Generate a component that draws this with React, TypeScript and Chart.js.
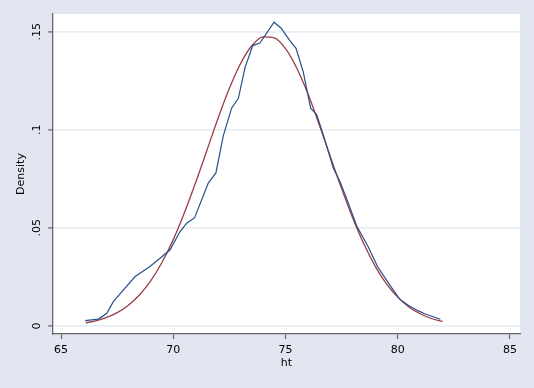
import React, { useEffect, useRef } from "react";
import { Chart, registerables } from "chart.js";

Chart.register(...registerables);

// Kernel density estimate (navy)
const kdensX = [66.07, 66.66, 67.03, 67.33, 67.78, 68.3, 68.96, 69.41, 69.86, 70.3, 70.6, 70.95, 71.56, 71.9, 72.23, 72.6, 72.9, 73.2, 73.54, 73.86, 74.49, 74.8, 75.17, 75.47, 75.79, 76.12, 76.39, 76.66, 77.13, 77.43, 77.73, 78.17, 78.69, 79.1, 79.65, 80.08, 80.5, 80.9, 81.2, 81.9];
const kdensY = [0.0027, 0.0035, 0.0063, 0.0124, 0.0184, 0.0252, 0.0303, 0.0345, 0.0388, 0.0481, 0.0524, 0.0552, 0.0728, 0.078, 0.097, 0.111, 0.116, 0.1318, 0.1429, 0.1442, 0.1548, 0.1519, 0.1458, 0.1415, 0.1295, 0.111, 0.1077, 0.0983, 0.0805, 0.0735, 0.0647, 0.0511, 0.0402, 0.0303, 0.0208, 0.0138, 0.0103, 0.0078, 0.0062, 0.0034];

// Normal density (maroon)
const normX = [66.1, 66.5, 67, 67.5, 68, 68.5, 69, 69.5, 70, 70.5, 71, 71.5, 72, 72.5, 73, 73.5, 74, 74.5, 75, 75.5, 76, 76.5, 77, 77.5, 78, 78.5, 79, 79.5, 80, 80.5, 81, 81.5, 82];
const normY = [0.0016, 0.0025, 0.0042, 0.0068, 0.0106, 0.0159, 0.0231, 0.0325, 0.044, 0.0578, 0.0732, 0.0896, 0.106, 0.1211, 0.1338, 0.1428, 0.1473, 0.1468, 0.1413, 0.1315, 0.1183, 0.1027, 0.0863, 0.07, 0.0549, 0.0416, 0.0304, 0.0215, 0.0147, 0.0097, 0.0062, 0.0038, 0.0023];

const xTicks = [65, 70, 75, 80, 85];
const yTicks = [0, 0.05, 0.1, 0.15];
const yTickLabels = ["0", ".05", ".1", ".15"];
const xTitle = "ht";
const yTitle = "Density";

const BG = "#e1e6f0";
const FONT = "'DejaVu Sans', sans-serif";

export default function App() {
  const ref = useRef<HTMLCanvasElement | null>(null);

  useEffect(() => {
    document.body.style.margin = "0";
    const canvas = ref.current;
    if (!canvas) return;

    const bgPlugin = {
      id: "bg",
      beforeDraw(chart: any) {
        const { ctx, chartArea } = chart;
        ctx.save();
        ctx.fillStyle = BG;
        ctx.fillRect(0, 0, chart.width, chart.height);
        ctx.fillStyle = "#ffffff";
        ctx.fillRect(chartArea.left, chartArea.top, chartArea.right - chartArea.left, chartArea.bottom - chartArea.top);
        ctx.restore();
      },
    };

    const chart = new Chart(canvas, {
      type: "line",
      data: {
        datasets: [
          {
            label: "kdensity",
            data: kdensX.map((x, i) => ({ x, y: kdensY[i] })),
            borderColor: "#26508a",
            borderWidth: 1.2,
            pointRadius: 0,
            tension: 0,
            fill: false,
          },
          {
            label: "normal",
            data: normX.map((x, i) => ({ x, y: normY[i] })),
            borderColor: "#9c3d45",
            borderWidth: 1.3,
            pointRadius: 0,
            tension: 0.4,
            cubicInterpolationMode: "monotone",
            fill: false,
          },
        ],
      },
      options: {
        responsive: false,
        animation: false,
        layout: { padding: { top: 14, right: 14, left: 0, bottom: 0 } },
        plugins: { legend: { display: false }, tooltip: { enabled: false } },
        scales: {
          x: {
            type: "linear",
            min: 64.64,
            max: 85.45,
            afterBuildTicks(scale: any) {
              scale.ticks = xTicks.map((v) => ({ value: v }));
            },
            afterFit(scale: any) {
              scale.height = 54;
            },
            grid: {
              drawOnChartArea: false,
              drawTicks: true,
              tickLength: 5,
              tickColor: "#666666",
              tickWidth: 1.2,
            },
            border: { display: true, color: "#666666", width: 1.3 },
            ticks: {
              color: "#000000",
              font: { family: FONT, size: 11 },
              padding: 5,
              maxRotation: 0,
              minRotation: 0,
              callback: (v: any) => String(v),
            },
            title: {
              display: true,
              text: xTitle,
              color: "#000000",
              font: { family: FONT, size: 11 },
              padding: { top: 0, bottom: 18 },
            },
          },
          y: {
            type: "linear",
            min: -0.0041,
            max: 0.159,
            afterBuildTicks(scale: any) {
              scale.ticks = yTicks.map((v) => ({ value: v }));
            },
            afterFit(scale: any) {
              scale.width = 53;
            },
            grid: {
              drawOnChartArea: true,
              color: "#e9edf4",
              lineWidth: 1.8,
              drawTicks: true,
              tickLength: 5,
              tickColor: "#666666",
              tickWidth: 1.2,
            },
            border: { display: true, color: "#666666", width: 1.3 },
            ticks: {
              color: "#000000",
              font: { family: FONT, size: 11 },
              padding: 2,
              minRotation: 90,
              maxRotation: 90,
              crossAlign: "center",
              callback: (v: any) => {
                const i = yTicks.findIndex((t) => Math.abs(t - v) < 1e-9);
                return i >= 0 ? yTickLabels[i] : "";
              },
            },
            title: {
              display: true,
              text: yTitle,
              color: "#000000",
              font: { family: FONT, size: 11 },
              padding: { top: 15, bottom: 0 },
            },
          },
        },
      } as any,
      plugins: [bgPlugin],
    });

    return () => chart.destroy();
  }, []);

  return (
    <div style={{ width: 534, height: 388, background: BG }}>
      <canvas ref={ref} width={534} height={388} style={{ display: "block" }} />
    </div>
  );
}
